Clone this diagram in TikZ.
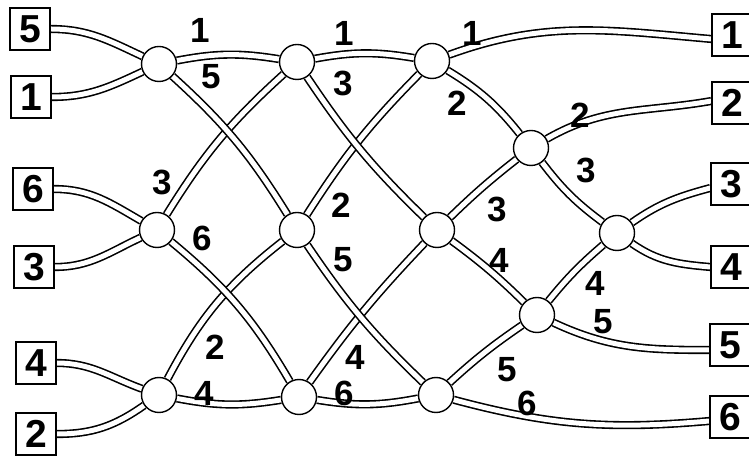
\documentclass[tikz,border=0pt]{standalone}
\usepackage{fontspec}
\setsansfont{Liberation Sans}
\usetikzlibrary{backgrounds}

\begin{document}
\begin{tikzpicture}[
    x=1pt, y=1pt,
    wire/.style={line width=1.6pt, double=white, double distance=5pt},
    cmp/.style={circle, draw, line width=1.4pt, fill=white, minimum size=35pt, inner sep=0pt},
    box/.style={rectangle, draw, line width=1.5pt, fill=white, minimum width=40pt, minimum height=42pt,
        inner sep=0pt, font=\sffamily\bfseries\fontsize{39}{39}\selectfont},
    num/.style={inner sep=0pt, font=\sffamily\bfseries\fontsize{35}{35}\selectfont},
]
\useasboundingbox (0,0) rectangle (749,457);

% input and output boxes
\node[box] (in5) at (30,428) {5};
\node[box] (in1) at (31,360) {1};
\node[box] (in6) at (33,268) {6};
\node[box] (in3) at (34,190) {3};
\node[box] (in4) at (36,94) {4};
\node[box] (in2) at (36,23) {2};
\node[box] (out1) at (732,422) {1};
\node[box] (out2) at (732,354) {2};
\node[box] (out3) at (731,273) {3};
\node[box] (out4) at (731,190) {4};
\node[box] (out5) at (730,112) {5};
\node[box] (out6) at (730,40) {6};

% comparators
\node[cmp] (a1) at (159,393) {};
\node[cmp] (a2) at (157,227) {};
\node[cmp] (a3) at (159,62) {};
\node[cmp] (b1) at (297,395) {};
\node[cmp] (b2) at (297,227) {};
\node[cmp] (b3) at (299,60) {};
\node[cmp] (c1) at (432,396) {};
\node[cmp] (c2) at (437,227) {};
\node[cmp] (c3) at (436,62) {};
\node[cmp] (d1) at (531,309) {};
\node[cmp] (d2) at (537,142) {};
\node[cmp] (e) at (617,224) {};

\begin{scope}[on background layer]
\draw[wire] (in5.east) to[out=0, in=155] (a1);
\draw[wire] (in1.east) to[out=0, in=205] (a1);
\draw[wire] (in6.east) to[out=0, in=150] (a2);
\draw[wire] (in3.east) to[out=0, in=205] (a2);
\draw[wire] (in4.east) to[out=0, in=160] (a3);
\draw[wire] (in2.east) to[out=0, in=215] (a3);

\draw[wire] (a1) to[bend left=10] (b1);
\draw[wire] (a2) to[bend left=8] (b1);
\draw[wire] (a1) to[bend left=8] (b2);
\draw[wire] (a3) to[bend left=12] (b2);
\draw[wire] (a2) to[bend left=10] (b3);
\draw[wire] (a3) to[bend right=10] (b3);

\draw[wire] (b1) to[bend left=10] (c1);
\draw[wire] (b2) to[bend left=6] (c1);
\draw[wire] (b1) to[bend right=6] (c2);
\draw[wire] (b3) to[bend left=4] (c2);
\draw[wire] (b2) to[bend right=6] (c3);
\draw[wire] (b3) to[bend right=10] (c3);

\draw[wire] (c1) to[bend left=10] (d1);
\draw[wire] (c2) to[bend left=3] (d1);
\draw[wire] (c2) to[bend left=4] (d2);
\draw[wire] (c3) to[bend left=4] (d2);
\draw[wire] (d1) to[bend right=8] (e);
\draw[wire] (d2) to[bend left=5] (e);

\draw[wire] (c1) to[out=20, in=175] ([yshift=-4pt]out1.west);
\draw[wire] (d1) to[out=30, in=190] ([yshift=2pt]out2.west);
\draw[wire] (e) to[out=35, in=195] ([yshift=-4pt]out3.west);
\draw[wire] (e) to[out=-35, in=175] (out4.west);
\draw[wire] (d2) to[out=-25, in=180] ([yshift=-5pt]out5.west);
\draw[wire] (c3) to[out=-15, in=185] ([yshift=-4pt]out6.west);
\end{scope}

% values on the wires
\node[num] (va1t) at (200,427) {1};
\node[num] (va1b) at (211,380) {5};
\node[num] (va2t) at (162,275) {3};
\node[num] (va2b) at (202,219) {6};
\node[num] (va3t) at (215,110) {2};
\node[num] (va3b) at (204,64) {4};
\node[num] (vb1t) at (344,424) {1};
\node[num] (vb1b) at (343,374) {3};
\node[num] (vb2t) at (341,252) {2};
\node[num] (vb2b) at (343,197) {5};
\node[num] (vb3t) at (355,100) {4};
\node[num] (vb3b) at (344,64) {6};
\node[num] (vc1t) at (472,424) {1};
\node[num] (vc1b) at (457,354) {2};
\node[num] (vc2t) at (497,248) {3};
\node[num] (vc2b) at (499,197) {4};
\node[num] (vc3t) at (507,87) {5};
\node[num] (vc3b) at (527,54) {6};
\node[num] (vd1t) at (580,342) {2};
\node[num] (vd1b) at (586,287) {3};
\node[num] (vd2t) at (595,174) {4};
\node[num] (vd2b) at (603,135) {5};
\end{tikzpicture}
\end{document}
